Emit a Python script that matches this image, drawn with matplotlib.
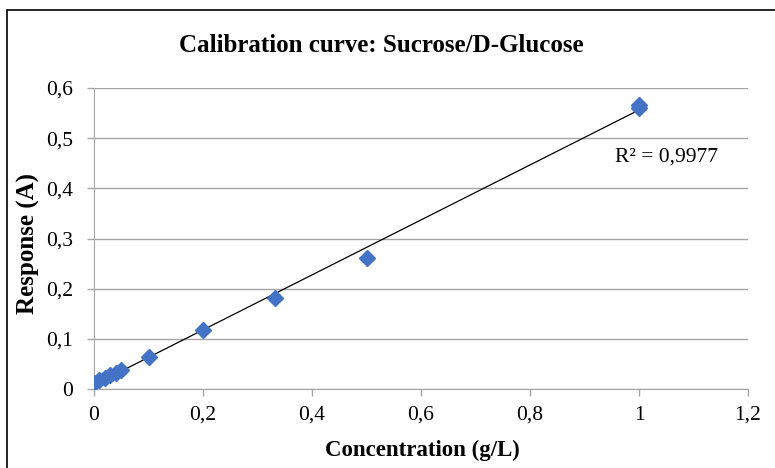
import matplotlib
matplotlib.use('Agg')
import matplotlib.pyplot as plt
import numpy as np

# calibration points
conc = [0, 0.01, 0.02, 0.03, 0.04, 0.05, 0.1, 0.2, 0.333, 0.5, 1.0, 1.0]
resp = [0.012, 0.018, 0.022, 0.027, 0.032, 0.038, 0.064, 0.117, 0.181, 0.261, 0.566, 0.560]
xticks = [0, 0.2, 0.4, 0.6, 0.8, 1, 1.2]
yticks = [0, 0.1, 0.2, 0.3, 0.4, 0.5, 0.6]
r2_label = 'R² = 0,9977'

plt.rcParams['font.family'] = ['Liberation Serif', 'DejaVu Serif']

fig = plt.figure(figsize=(7.75, 4.68), dpi=100)
ax = fig.add_axes([94 / 775, 1 - 389 / 468, (748 - 94) / 775, (389 - 88) / 468])

# outer chart frame (runs off the right and bottom edges)
fig.patches.append(plt.Rectangle((7 / 775, -0.05), 1.1, 1 - 10 / 468 + 0.05,
                                 transform=fig.transFigure, fill=False,
                                 edgecolor='black', linewidth=1.2))

# linear trend line
slope, icpt = np.polyfit(conc, resp, 1)
xs = np.array([0, max(conc)])
ax.plot(xs, slope * xs + icpt, color='black', linewidth=0.9, zorder=2)
ax.plot(conc, resp, linestyle='none', marker='D', markersize=8.5,
        color='#4472C4', zorder=3)

ax.set_xlim(0, 1.2)
ax.set_ylim(0, 0.6)
ax.set_xticks(xticks)
ax.set_yticks(yticks)
fmt = lambda v: ('%g' % v).replace('.', ',')
ax.set_xticklabels([fmt(v) for v in xticks], fontsize=15.5)
ax.set_yticklabels([fmt(v) for v in yticks], fontsize=15.5)
ax.grid(axis='y', color='#a6a6a6', linewidth=1)
ax.set_axisbelow(True)
for s in ['top', 'right']:
    ax.spines[s].set_visible(False)
for s in ['left', 'bottom']:
    ax.spines[s].set_color('#a6a6a6')
ax.tick_params(axis='both', color='#a6a6a6', length=5, width=1)
ax.tick_params(axis='x', pad=7)
ax.tick_params(axis='y', pad=10)

ax.text(0.954, 0.77, r2_label, fontsize=15.5, ha='right', va='center',
        transform=ax.transAxes)

fig.text(381 / 775, 1 - 46 / 468, 'Calibration curve: Sucrose/D-Glucose',
         fontsize=18, fontweight='bold', ha='center', va='center')
fig.text(28 / 775, 1 - 243 / 468, 'Response (A)', fontsize=18, fontweight='bold',
         rotation=90, ha='center', va='center')
fig.text(422 / 775, 1 - 450 / 468, 'Concentration (g/L)', fontsize=16.5,
         fontweight='bold', ha='center', va='center')

fig.savefig('out.png', dpi=100)
